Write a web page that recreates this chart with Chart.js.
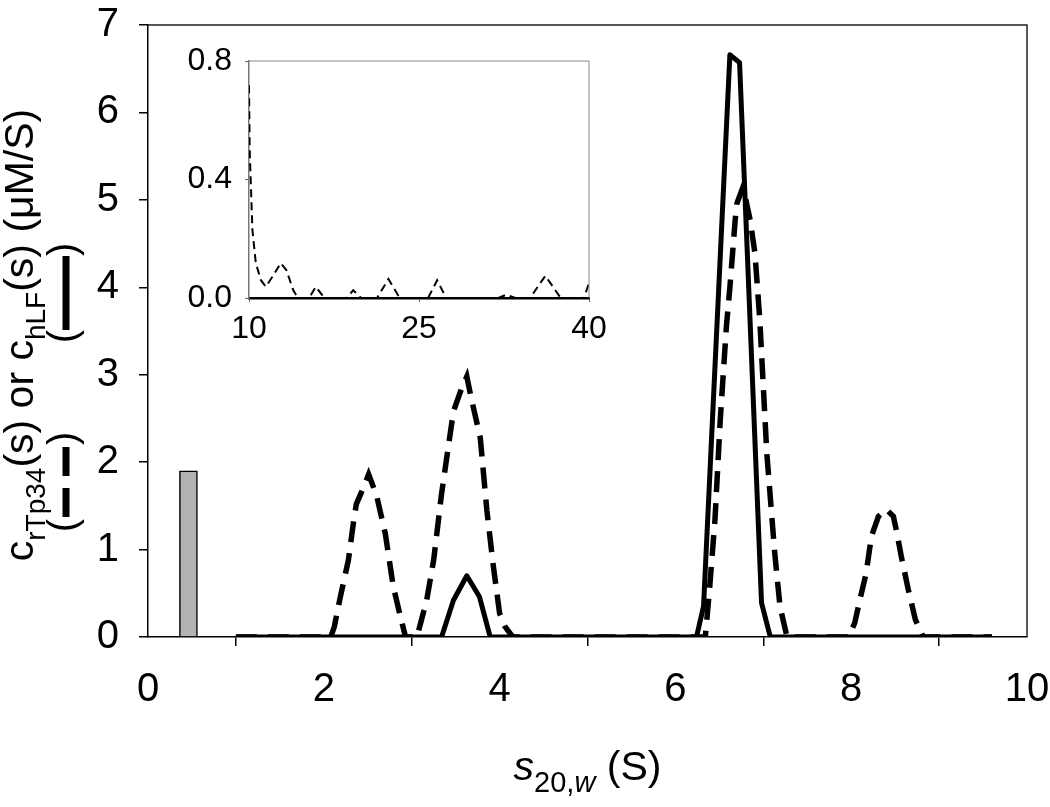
<!DOCTYPE html>
<html>
<head>
<meta charset="utf-8">
<script src="https://cdn.jsdelivr.net/npm/chart.js@4.4.1/dist/chart.umd.min.js"></script>
<style>
  html, body { margin: 0; padding: 0; background: #fff; }
  #wrap { position: relative; width: 1050px; height: 807px; }
  #main { position: absolute; left: 0; top: 0; }
  #inset { position: absolute; left: 170px; top: 40px; }
</style>
</head>
<body>
<div id="wrap">
  <canvas id="main" width="1050" height="807"></canvas>
  <canvas id="inset" width="440" height="320"></canvas>
</div>
<script>
// c(s) for hLF (solid line)
const hlfS = [1.0, 3.34, 3.475, 3.627, 3.771, 3.893, 6.24, 6.32, 6.62, 6.73, 6.98, 7.08, 9.6];
const hlfC = [0, 0, 0.42, 0.70, 0.46, 0, 0, 0.35, 6.66, 6.57, 0.39, 0, 0];

// c(s) for rTp34 (dashed line)
const tp34S = [1.0, 2.08, 2.12, 2.18, 2.28, 2.34, 2.37, 2.43, 2.51, 2.60, 2.70, 2.79, 2.87, 2.93,
  3.06, 3.17, 3.25, 3.34, 3.42, 3.475, 3.57, 3.627, 3.68, 3.78, 3.855, 3.93, 4.0, 4.06, 4.15,
  6.34, 6.39, 6.45, 6.51, 6.58, 6.62, 6.68, 6.70, 6.77, 6.85, 6.905, 6.96, 7.04, 7.13, 7.19, 7.27,
  7.97, 8.04, 8.10, 8.17, 8.23, 8.31, 8.40, 8.48, 8.52, 8.57, 8.65, 8.73, 8.82, 9.6];
const tp34C = [0, 0, 0.12, 0.42, 0.88, 1.33, 1.52, 1.66, 1.86, 1.62, 1.18, 0.58, 0.24, 0,
  0, 0.42, 0.88, 1.64, 2.2, 2.58, 2.85, 2.98, 2.72, 2.28, 1.45, 0.8, 0.27, 0.12, 0,
  0, 0.57, 1.34, 2.48, 3.55, 4.0, 4.77, 4.96, 5.15, 4.77, 4.39, 3.63, 2.1, 0.96, 0.35, 0,
  0, 0.16, 0.43, 0.73, 1.15, 1.38, 1.46, 1.38, 1.19, 0.92, 0.54, 0.2, 0, 0];

// inset: rTp34 above 10 S
const insetS = [10.0, 10.06, 10.3, 10.6, 11.04, 11.48, 12.07, 12.8, 13.3, 13.9, 14.3,
  15.3, 15.9, 16.65, 18.6, 19.2, 19.9, 21.3, 22.3, 23.3, 25.8, 26.6, 27.4,
  32.0, 32.7, 33.5, 34.8, 36.15, 37.5, 39.55, 40.0];
const insetC = [0.718, 0.50, 0.23, 0.118, 0.061, 0.038, 0.072, 0.118, 0.094, 0.027, 0,
  0, 0.038, 0, 0, 0.026, 0, 0, 0.064, 0, 0, 0.06, 0,
  0, 0.011, 0, 0, 0.075, 0, 0, 0.05];

// gray bar
const barS = [0.46];
const barC = [1.9];

const xTicks = [0, 2, 4, 6, 8, 10];
const yTicks = [0, 1, 2, 3, 4, 5, 6, 7];
const insetXTicks = [10, 25, 40];
const insetYTicks = [0, 0.4, 0.8];

Chart.defaults.font.family = "'Liberation Sans', Arial, sans-serif";
Chart.defaults.color = '#000';

const pts = (xs, ys) => xs.map((x, i) => ({ x: x, y: ys[i] }));

// fixed axis box sizes, no label overhang padding
const fitX = h => s => { s.height = h; s.paddingLeft = 0; s.paddingRight = 0; };
const fitY = w => s => { s.width = w; s.paddingTop = 0; s.paddingBottom = 0; };

// draws a run of text pieces, some subscript / italic
function drawRich(ctx, parts, cx, cy, rot, size, subSize) {
  ctx.save();
  ctx.translate(cx, cy);
  ctx.rotate(rot);
  ctx.fillStyle = '#000';
  ctx.textBaseline = 'alphabetic';
  ctx.textAlign = 'left';
  const fam = Chart.defaults.font.family;
  const fontOf = p => (p.it ? 'italic ' : '') + (p.sub ? subSize : size) + 'px ' + fam;
  let total = 0;
  parts.forEach(p => { ctx.font = fontOf(p); p.w = ctx.measureText(p.t).width; total += p.w; });
  let x = -total / 2;
  parts.forEach(p => {
    ctx.font = fontOf(p);
    ctx.fillText(p.t, x, p.sub ? 12 : 0);
    x += p.w;
  });
  ctx.restore();
}

// rotated "(—)" / "(– –)" keys under the y title
function drawKey(ctx, cx, cy, dashed) {
  ctx.save();
  ctx.translate(cx, cy);
  ctx.rotate(-Math.PI / 2);
  ctx.fillStyle = '#000';
  ctx.font = '40px ' + Chart.defaults.font.family;
  ctx.textBaseline = 'alphabetic';
  const half = 39;
  const wp = ctx.measureText('(').width;
  ctx.fillText('(', -half - wp + 2, 0);
  ctx.fillText(')', half - 2, 0);
  ctx.strokeStyle = '#000';
  ctx.lineWidth = 7;
  ctx.beginPath();
  if (dashed) {
    ctx.moveTo(-half + 4, -10); ctx.lineTo(-6, -10);
    ctx.moveTo(6, -10); ctx.lineTo(half - 4, -10);
  } else {
    ctx.moveTo(-half + 2, -10); ctx.lineTo(half - 2, -10);
  }
  ctx.stroke();
  ctx.restore();
}

const framePlugin = {
  id: 'frame',
  afterDraw(chart, args, opts) {
    const { ctx, chartArea: a } = chart;
    ctx.save();
    ctx.strokeStyle = opts.color;
    ctx.lineWidth = opts.width;
    ctx.beginPath();
    ctx.moveTo(a.left, a.top);
    ctx.lineTo(a.right, a.top);
    ctx.lineTo(a.right, a.bottom);
    ctx.stroke();
    ctx.restore();
  }
};

const titlePlugin = {
  id: 'titles',
  afterDraw(chart) {
    const ctx = chart.ctx;
    const a = chart.chartArea;
    const midY = (a.top + a.bottom) / 2;
    drawRich(ctx, [
      { t: 'c' }, { t: 'rTp34', sub: true }, { t: '(s) or c' },
      { t: 'hLF', sub: true }, { t: '(s) (\u03bcM/S)' }
    ], 33, midY + 4, -Math.PI / 2, 41, 28);
    drawKey(ctx, 76, 293, false);
    drawKey(ctx, 76, 482, true);
    drawRich(ctx, [
      { t: 's', it: true }, { t: '20,', sub: true }, { t: 'w', sub: true, it: true }, { t: ' (S)' }
    ], (a.left + a.right) / 2, 780, 0, 41, 29);
  }
};

new Chart(document.getElementById('main'), {
  type: 'line',
  data: {
    datasets: [
      {
        type: 'bar',
        data: pts(barS, barC),
        backgroundColor: '#b3b3b3',
        borderColor: '#000',
        borderWidth: 1.5,
        barThickness: 18
      },
      {
        data: pts(tp34S, tp34C),
        borderColor: '#000',
        borderWidth: 5.5,
        borderDash: [21, 11],
        pointRadius: 0,
        tension: 0
      },
      {
        data: pts(hlfS, hlfC),
        borderColor: '#000',
        borderWidth: 5,
        borderJoinStyle: 'round',
        pointRadius: 0,
        tension: 0
      }
    ]
  },
  options: {
    responsive: false,
    animation: false,
    devicePixelRatio: 1,
    layout: { padding: { top: 25, right: 23, left: 0, bottom: 0 } },
    plugins: {
      legend: { display: false },
      tooltip: { enabled: false },
      frame: { color: '#222', width: 1.5 }
    },
    scales: {
      x: {
        type: 'linear', min: 0, max: 10, offset: false,
        afterBuildTicks: s => { s.ticks = xTicks.map(v => ({ value: v })); },
        afterFit: fitX(170),
        grid: { drawOnChartArea: false, tickLength: 9, color: '#000', lineWidth: 1.5 },
        border: { color: '#000', width: 1.5 },
        ticks: { font: { size: 40 }, padding: 20, maxRotation: 0 }
      },
      y: {
        type: 'linear', min: 0, max: 7,
        afterBuildTicks: s => { s.ticks = yTicks.map(v => ({ value: v })); },
        afterFit: fitY(148),
        grid: { drawOnChartArea: false, tickLength: 9, color: '#000', lineWidth: 1.5 },
        border: { color: '#000', width: 1.5 },
        ticks: { font: { size: 40 }, padding: 20 }
      }
    }
  },
  plugins: [framePlugin, titlePlugin]
});

new Chart(document.getElementById('inset'), {
  type: 'line',
  data: {
    datasets: [{
      data: pts(insetS, insetC),
      borderColor: '#000',
      borderWidth: 2,
      borderDash: [8, 5],
      pointRadius: 0,
      tension: 0
    }]
  },
  options: {
    responsive: false,
    animation: false,
    devicePixelRatio: 1,
    layout: { padding: { top: 21, right: 21, left: 0, bottom: 0 } },
    plugins: {
      legend: { display: false },
      tooltip: { enabled: false },
      frame: { color: '#888', width: 1 }
    },
    scales: {
      x: {
        type: 'linear', min: 10, max: 40,
        afterBuildTicks: s => { s.ticks = insetXTicks.map(v => ({ value: v })); },
        afterFit: fitX(62),
        grid: { drawOnChartArea: false, tickLength: 4, color: '#666', lineWidth: 1 },
        border: { color: '#000', width: 2.5 },
        ticks: { font: { size: 32 }, padding: 8, maxRotation: 0 }
      },
      y: {
        type: 'linear', min: 0, max: 0.8,
        afterBuildTicks: s => { s.ticks = insetYTicks.map(v => ({ value: v })); },
        afterFit: fitY(79),
        grid: { drawOnChartArea: false, tickLength: 4, color: '#666', lineWidth: 1 },
        border: { color: '#777', width: 1.5 },
        ticks: { font: { size: 32 }, padding: 13, callback: v => v.toFixed(1) }
      }
    }
  },
  plugins: [framePlugin]
});
</script>
</body>
</html>
